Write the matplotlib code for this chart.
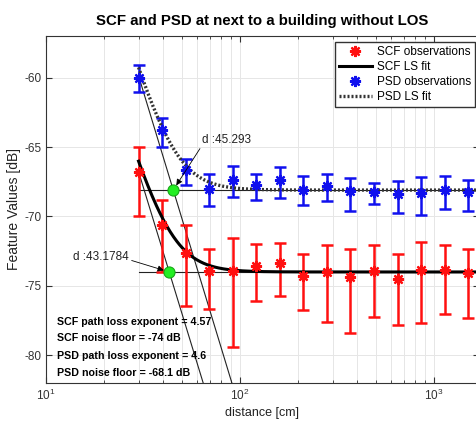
import numpy as np
import matplotlib
matplotlib.use("Agg")
import matplotlib.pyplot as plt
from matplotlib.lines import Line2D
from matplotlib.ticker import LogLocator, NullFormatter

plt.rcParams['font.family'] = ['Liberation Sans', 'DejaVu Sans']
plt.rcParams['axes.unicode_minus'] = False

# distance of each measurement [cm]
distance = [30, 39.7, 52.5, 69.4, 91.8, 121.3, 160.5, 212.2, 280.6, 371.1,
            490.7, 648.9, 858.1, 1134.8, 1500.6]

# SCF observations [dB] with lower / upper error extents
scf_mean = [-66.8, -70.6, -72.6, -73.96, -73.91, -73.6, -73.35, -74.32, -74.0,
            -74.36, -73.91, -74.5, -73.88, -73.83, -74.07]
scf_lo = [3.2, 3.4, 3.84, 2.7, 5.5, 2.5, 2.35, 2.4, 3.6, 4.03, 3.36, 3.29, 3.79, 3.19, 3.24]
scf_hi = [1.8, 1.8, 1.96, 1.64, 2.35, 1.61, 1.43, 1.64, 1.91, 2.04, 1.87, 1.82, 2.01, 1.79, 1.75]

# PSD observations [dB] with lower / upper error extents
psd_mean = [-60.0, -63.76, -66.64, -68.0, -67.36, -67.72, -67.36, -68.08, -67.84,
            -68.2, -68.27, -68.39, -68.32, -68.13, -68.27]
psd_lo = [1.0, 1.24, 1.08, 1.28, 1.27, 1.08, 1.32, 1.12, 1.08, 1.44, 0.83, 1.37, 1.61, 1.34, 1.37]
psd_hi = [0.94, 0.84, 0.77, 1.05, 0.96, 0.77, 0.91, 0.96, 0.89, 0.96, 0.67, 0.96, 1.15, 1.01, 0.91]

# least-squares fit parameters
scf_exponent, scf_floor, scf_knee = 4.57, -74.0, 43.1784
psd_exponent, psd_floor, psd_knee = 4.6, -68.1, 45.293

SCF_RED = '#ff1010'
PSD_BLUE = '#1010ee'
STAR = (8, 2, 0)
STAR_MS, STAR_MEW = 8, 1.6

W, H, DPI = 476, 426, 100
fig = plt.figure(figsize=(W / DPI, H / DPI), dpi=DPI)
ax = fig.add_axes([46 / W, (H - 383) / H, (478.7 - 46) / W, (383 - 36) / H])

ax.set_xscale('log')
ax.set_xlim(10, 1700)
ax.set_ylim(-82, -57)

ax.grid(True, which='major', color='#e6e6e6', lw=0.7, zorder=0)
ax.grid(True, which='minor', axis='x', color='#e6e6e6', lw=0.7, zorder=0)
ax.set_axisbelow(True)

d = np.logspace(np.log10(distance[0]), np.log10(1700), 400)


def path_line(n, floor, knee, x):
    return floor - 10 * n * np.log10(np.asarray(x) / knee)


def ls_fit(n, floor, knee, x):
    pl = path_line(n, floor, knee, x)
    return 10 * np.log10(10 ** (pl / 10) + 10 ** (floor / 10))


# noise-floor reference lines and path-loss asymptotes
for n, floor, knee in [(scf_exponent, scf_floor, scf_knee), (psd_exponent, psd_floor, psd_knee)]:
    ax.plot([distance[0], 1700], [floor, floor], color='#222222', lw=0.8, zorder=2)
    dl = np.logspace(np.log10(distance[0]), np.log10(200), 50)
    ax.plot(dl, path_line(n, floor, knee, dl), color='#222222', lw=0.8, zorder=2)

eb_kw = dict(fmt='none', elinewidth=1.8, capsize=4, capthick=1.8, zorder=3)
mk_kw = dict(ls='none', marker=STAR, ms=STAR_MS, mew=STAR_MEW, zorder=5)

ax.errorbar(distance, scf_mean, yerr=[scf_lo, scf_hi], ecolor=SCF_RED, **eb_kw)
ax.plot(distance, scf_mean, color=SCF_RED, **mk_kw)
ax.plot(d, ls_fit(scf_exponent, scf_floor, scf_knee, d), color='black', lw=2.2, zorder=4)

ax.errorbar(distance, psd_mean, yerr=[psd_lo, psd_hi], ecolor=PSD_BLUE, **eb_kw)
ax.plot(distance, psd_mean, color=PSD_BLUE, **mk_kw)
psd_style = dict(color='#333333', lw=2.4, linestyle=(0, (0.6, 0.6)))
ax.plot(d, ls_fit(psd_exponent, psd_floor, psd_knee, d), zorder=4, **psd_style)

# knee points
for floor, knee in [(scf_floor, scf_knee), (psd_floor, psd_knee)]:
    ax.plot([knee], [floor], 'o', ms=8, color='#22ee22', mec='#18a818', mew=0.8, zorder=6)

arrow_kw = dict(arrowstyle='-|>', color='black', lw=0.6, mutation_scale=9, shrinkA=0, shrinkB=4)
ax.annotate('d :%g' % psd_knee, xy=(psd_knee, psd_floor), xytext=(63.5, -64.48),
            fontsize=8.5, color='#222222', ha='left', va='center',
            arrowprops=dict(**arrow_kw, relpos=(0, 0)), zorder=7)
ax.annotate('d :%g' % scf_knee, xy=(scf_knee, scf_floor), xytext=(13.8, -72.94),
            fontsize=8.5, color='#222222', ha='left', va='center',
            arrowprops=dict(**arrow_kw, relpos=(1, 0.3)), zorder=7)

stats = ['SCF path loss exponent = %g' % scf_exponent,
         'SCF noise floor = %g dB' % scf_floor,
         'PSD path loss exponent = %g' % psd_exponent,
         'PSD noise floor = %g dB' % psd_floor]
for s, y in zip(stats, [-77.63, -78.75, -80.07, -81.27]):
    ax.text(11.4, y, s, fontsize=7.7, fontweight='bold', ha='left', va='center', zorder=7)

ax.set_yticks([-80, -75, -70, -65, -60])
ax.xaxis.set_major_locator(LogLocator(base=10, numticks=10))
ax.xaxis.set_minor_locator(LogLocator(base=10, subs=np.arange(2, 10), numticks=20))
ax.xaxis.set_minor_formatter(NullFormatter())
ax.tick_params(which='both', direction='in', top=True, right=True, labelsize=8.5, colors='#333333')
ax.tick_params(which='major', length=4)
ax.tick_params(which='minor', length=2.5)
for sp in ax.spines.values():
    sp.set_color('#333333')
    sp.set_linewidth(0.8)

ax.set_xlabel('distance [cm]', fontsize=9, color='#222222', labelpad=3)
ax.set_ylabel('Feature Values [dB]', fontsize=10, color='#222222', labelpad=2)
ax.set_title('SCF and PSD at next to a building without LOS', fontsize=10.8, fontweight='bold', pad=8)

handles = [
    Line2D([], [], ls='none', marker=STAR, ms=STAR_MS, mew=STAR_MEW, color=SCF_RED),
    Line2D([], [], color='black', lw=2.2),
    Line2D([], [], ls='none', marker=STAR, ms=STAR_MS, mew=STAR_MEW, color=PSD_BLUE),
    Line2D([], [], **psd_style),
]
labels = ['SCF observations', 'SCF LS fit', 'PSD observations', 'PSD LS fit']
ax.legend(handles, labels, loc='upper right', bbox_to_anchor=(475 / W, (H - 41.7) / H),
          bbox_transform=fig.transFigure, fontsize=8.5, frameon=True, fancybox=False,
          edgecolor='#333333', framealpha=1, borderaxespad=0, handlelength=2.8,
          labelspacing=0.25, borderpad=0.35, handletextpad=0.4)

fig.savefig('out.png', dpi=DPI)
